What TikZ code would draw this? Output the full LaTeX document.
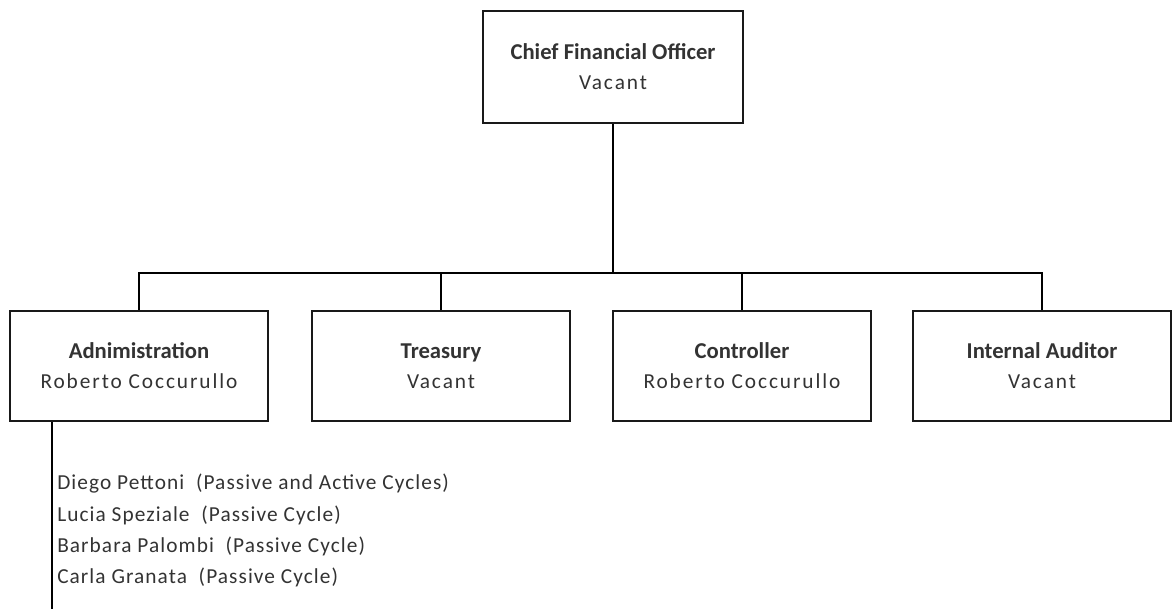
\documentclass[tikz,border=0pt]{standalone}
\usepackage{fontspec}
\setmainfont{Carlito}
\newfontfamily\namefont[LetterSpace=9]{Carlito}
\newfontfamily\listfont[LetterSpace=5]{Carlito}
\begin{document}
\begin{tikzpicture}[x=0.75pt,y=-0.75pt,
  orgbox/.style={draw=black!90, line width=1.9pt, fill=white, minimum width=193.5pt, minimum height=82.5pt, align=center, inner sep=0pt, font=\fontsize{16}{22.5}\selectfont, text=black!80},
  conn/.style={draw=black, line width=1.9pt},
  member/.style={anchor=west, inner sep=0pt, font=\listfont\fontsize{16}{18}\selectfont, text=black!80}]
\useasboundingbox (0,0) rectangle (1172,609);
\node[orgbox, minimum width=195pt, minimum height=84pt] (cfo) at (613,67) {{\fontsize{17}{22.5}\selectfont\bfseries Chief Financial Officer}\\{\namefont Vacant}};
\node[orgbox] (adm) at (139,366) {{\fontsize{17}{22.5}\selectfont\bfseries Adnimistration}\\{\namefont Roberto Coccurullo}};
\node[orgbox] (tre) at (441,366) {{\fontsize{17}{22.5}\selectfont\bfseries Treasury}\\{\namefont Vacant}};
\node[orgbox] (con) at (742,366) {{\fontsize{17}{22.5}\selectfont\bfseries Controller}\\{\namefont Roberto Coccurullo}};
\node[orgbox] (ia) at (1042,366) {{\fontsize{17}{22.5}\selectfont\bfseries Internal Auditor}\\{\namefont Vacant}};
\coordinate (bus) at (613,273);
\coordinate (listend) at (52,609);
\draw[conn] (cfo.south) -- (bus);
\draw[conn] (adm.north) -- (adm.north |- bus) -- (ia.north |- bus) -- (ia.north);
\draw[conn] (tre.north) -- (tre.north |- bus);
\draw[conn] (con.north) -- (con.north |- bus);
\draw[conn] (adm.south west -| listend) -- (listend);
\node[member] (m1) at (57,484) {Diego Pettoni\ \ (Passive and Active Cycles)};
\node[member] (m2) at (57,515) {Lucia Speziale\ \ (Passive Cycle)};
\node[member] (m3) at (57,546) {Barbara Palombi\ \ (Passive Cycle)};
\node[member] (m4) at (57,577) {Carla Granata\ \ (Passive Cycle)};
\end{tikzpicture}
\end{document}
